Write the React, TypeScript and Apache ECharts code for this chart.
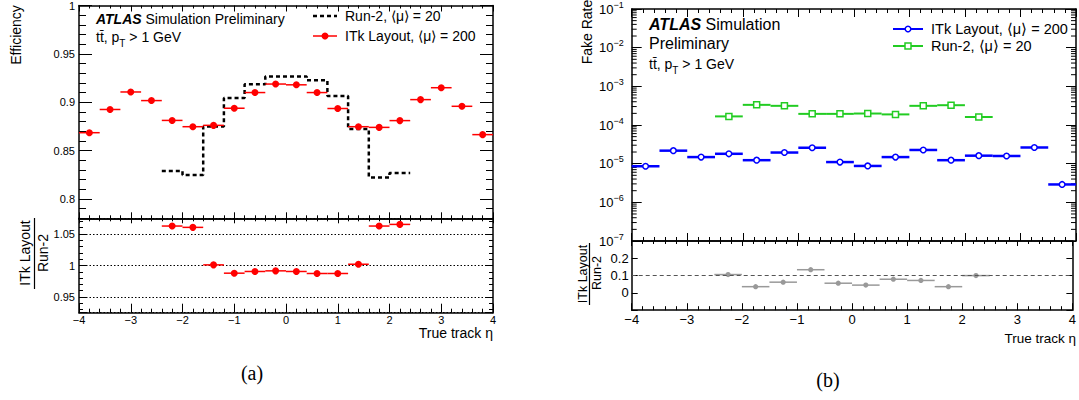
import React, { useEffect, useRef } from "react";
import * as echarts from "echarts";

const FONT = "'Liberation Sans', Arial, Helvetica, sans-serif";

// ---------- panel (a): efficiency ----------
const ETA_A = [-3.8, -3.4, -3.0, -2.6, -2.2, -1.8, -1.4, -1.0, -0.6, -0.2, 0.2, 0.6, 1.0, 1.4, 1.8, 2.2, 2.6, 3.0, 3.4, 3.8];
const ITK_EFF = [0.8685, 0.8925, 0.9106, 0.9017, 0.8812, 0.8747, 0.8761, 0.8938, 0.910, 0.9188, 0.918, 0.910, 0.8935, 0.8747, 0.874, 0.881, 0.9027, 0.915, 0.8958, 0.8665];
const RUN2_ETA_A = [-2.2, -1.8, -1.4, -1.0, -0.6, -0.2, 0.2, 0.6, 1.0, 1.4, 1.8, 2.2];
const RUN2_EFF = [0.829, 0.8247, 0.875, 0.9044, 0.9185, 0.9267, 0.9267, 0.9226, 0.9065, 0.8723, 0.8223, 0.8268];
const RATIO_A = [1.0627, 1.0606, 1.001, 0.9878, 0.9905, 0.9915, 0.9905, 0.9873, 0.9873, 1.002, 1.0627, 1.0653];
const HALF_A = 0.2;

// ---------- panel (b): fake rate ----------
const ETA_B = [-3.75, -3.25, -2.75, -2.25, -1.75, -1.25, -0.75, -0.25, 0.25, 0.75, 1.25, 1.75, 2.25, 2.75, 3.25, 3.75];
const ITK_FAKE = [8.57e-6, 2.17e-5, 1.48e-5, 1.8e-5, 1.23e-5, 1.94e-5, 2.58e-5, 1.1e-5, 8.73e-6, 1.48e-5, 2.26e-5, 1.23e-5, 1.61e-5, 1.58e-5, 2.62e-5, 2.9e-6];
const RUN2_ETA_B = [-2.25, -1.75, -1.25, -0.75, -0.25, 0.25, 0.75, 1.25, 1.75, 2.25];
const RUN2_FAKE = [1.67e-4, 3.32e-4, 3.13e-4, 1.94e-4, 1.94e-4, 1.98e-4, 1.88e-4, 3.13e-4, 3.25e-4, 1.61e-4];
const RATIO_B = [0.106, 0.036, 0.062, 0.134, 0.056, 0.045, 0.079, 0.072, 0.036, 0.1];
const HALF_B = 0.25;

// log-axis minor tick positions (2..9 x 10^n)
const LOG_DECADES = [1e-7, 1e-6, 1e-5, 1e-4, 1e-3, 1e-2];
const LOG_MULT = [2, 3, 4, 5, 6, 7, 8, 9];

const zip = (a: number[], b: number[]) => a.map((v, i) => [v, b[i]]);

type MarkerOpt = { line: string; lw: number; marker: "dot" | "circle" | "square"; mColor: string; r: number };

const makeBinRender = (half: number, o: MarkerOpt) => (params: any, api: any) => {
  const x = api.value(0);
  const y = api.value(1);
  const c = api.coord([x, y]);
  const l = api.coord([x - half, y]);
  const r = api.coord([x + half, y]);
  const children: any[] = [
    { type: "line", shape: { x1: l[0], y1: c[1], x2: r[0], y2: c[1] }, style: { stroke: o.line, lineWidth: o.lw } },
  ];
  if (o.marker === "dot") {
    children.push({ type: "circle", shape: { cx: c[0], cy: c[1], r: o.r }, style: { fill: o.mColor } });
  } else if (o.marker === "circle") {
    children.push({ type: "circle", shape: { cx: c[0], cy: c[1], r: o.r }, style: { fill: "#fff", stroke: o.mColor, lineWidth: 1.5 } });
  } else {
    children.push({
      type: "rect",
      shape: { x: c[0] - o.r, y: c[1] - o.r, width: 2 * o.r, height: 2 * o.r },
      style: { fill: "#fff", stroke: o.mColor, lineWidth: 1.5 },
    });
  }
  return { type: "group", children };
};

const minusFmt = (v: number) => (v < 0 ? "\u2212" + Math.abs(v) : String(v));

const AXLINE = { show: true, onZero: false, lineStyle: { color: "#000", width: 1.5 } };

function xAx(grid: number, pos: string, major: number, minor: number, labels: boolean, fontSize = 11, margin = 3) {
  return {
    type: "value",
    gridIndex: grid,
    position: pos,
    min: -4,
    max: 4,
    interval: 1,
    axisLine: AXLINE,
    axisTick: { show: true, inside: true, length: major, lineStyle: { color: "#000", width: 1 } },
    minorTick: { show: true, splitNumber: 5, length: minor, lineStyle: { color: "#000", width: 1 } },
    splitLine: { show: false },
    axisLabel: labels
      ? { show: true, color: "#000", fontFamily: FONT, fontSize, margin, formatter: minusFmt, showMinLabel: true, showMaxLabel: true }
      : { show: false },
  };
}

function App() {
  const ref = useRef<HTMLDivElement>(null);

  useEffect(() => {
    if (!ref.current) return;
    const chart = echarts.init(ref.current, undefined, { renderer: "svg" });

    // grid geometry
    const LA = 79, WA = 414;
    const LB = 631.7, WB = 444.3;

    const effFmt = (v: number) => {
      const k = v / 0.05;
      return Math.abs(k - Math.round(k)) < 1e-6 ? String(+v.toFixed(2)) : "";
    };
    const ratBFmt = (v: number) => (v > -0.05 && v < 0.25 ? String(+v.toFixed(1)) : "");
    const logFmt = (v: number) => {
      const e = Math.round(Math.log10(v));
      return "{b|10}{s|" + (e < 0 ? "\u2212" + Math.abs(e) : String(e)) + "}";
    };

    const yValue = (grid: number, pos: string, min: number, max: number, split: number, major: number, minor: number, minorSplit: number, label: any, splitLine: any) => ({
      type: "value",
      gridIndex: grid,
      position: pos,
      min,
      max,
      splitNumber: split,
      axisLine: AXLINE,
      axisTick: { show: true, inside: true, length: major, lineStyle: { color: "#000", width: 1 } },
      minorTick: { show: minorSplit > 1, splitNumber: minorSplit, length: minor, lineStyle: { color: "#000", width: 1 } },
      splitLine: splitLine || { show: false },
      axisLabel: label || { show: false },
    });

    const yLog = (pos: string, labels: boolean) => ({
      type: "log",
      logBase: 10,
      gridIndex: 2,
      position: pos,
      min: 1e-7,
      max: 1e-1,
      splitNumber: 6,
      axisLine: AXLINE,
      axisTick: { show: true, inside: true, length: 10, lineStyle: { color: "#000", width: 1 } },
      splitLine: { show: false },
      axisLabel: labels
        ? {
            show: true,
            margin: 8,
            formatter: logFmt,
            showMinLabel: true,
            showMaxLabel: true,
            rich: {
              b: { fontFamily: FONT, fontSize: 13, color: "#000", lineHeight: 18, verticalAlign: "middle" },
              s: { fontFamily: FONT, fontSize: 9, color: "#000", lineHeight: 9, verticalAlign: "top" },
            },
          }
        : { show: false },
    });

    const minorLogData: number[][] = [];
    LOG_DECADES.forEach((d) => LOG_MULT.forEach((m) => minorLogData.push([-4, m * d])));

    const run2Step: number[][] = [];
    RUN2_ETA_A.forEach((c, i) => {
      run2Step.push([c - HALF_A, RUN2_EFF[i]]);
      run2Step.push([c + HALF_A, RUN2_EFF[i]]);
    });

    const richTT = (size: number, lh: number, sub: number, subLh: number) => ({
      n: { fontFamily: FONT, fontSize: size, fill: "#000", lineHeight: lh, verticalAlign: "middle" },
      s: { fontFamily: FONT, fontSize: sub, fill: "#000", lineHeight: subLh, verticalAlign: "bottom" },
    });

    const txt = (x: number, y: number, text: string, size: number, extra: any = {}) => ({
      type: "text",
      x,
      y,
      silent: true,
      style: { text, fontFamily: FONT, fontSize: size, fill: "#000", align: "left", verticalAlign: "middle", ...extra },
    });

    const graphic: any[] = [
      // panel a texts
      {
        type: "text",
        x: 96,
        y: 19,
        silent: true,
        style: {
          text: "{a|ATLAS}{n| Simulation Preliminary}",
          verticalAlign: "middle",
          rich: {
            a: { fontFamily: FONT, fontSize: 14, fontWeight: "bold", fontStyle: "italic", fill: "#000" },
            n: { fontFamily: FONT, fontSize: 14, fill: "#000" },
          },
        },
      },
      {
        type: "text",
        x: 96,
        y: 37,
        silent: true,
        style: { text: "{n|tt\u0304, p}{s|T}{n| > 1 GeV}", verticalAlign: "middle", rich: richTT(14, 22, 10, 10) },
      },
      { type: "line", shape: { x1: 313, y1: 16, x2: 337, y2: 16 }, style: { stroke: "#000", lineWidth: 2.5, lineDash: [4, 3] } },
      txt(345, 16, "Run-2, \u27E8\u03BC\u27E9 = 20", 14),
      { type: "line", shape: { x1: 313, y1: 36, x2: 337, y2: 36 }, style: { stroke: "#ff0000", lineWidth: 1.5 } },
      { type: "circle", shape: { cx: 325, cy: 36, r: 3.5 }, style: { fill: "#ff0000" } },
      txt(345, 36, "ITk Layout, \u27E8\u03BC\u27E9 = 200", 14),
      txt(16, 35, "Efficiency", 14, { align: "center" }),
      { type: "text", x: 16, y: 35, rotation: Math.PI / 2, silent: true, style: { text: "", fontSize: 1 } },
      txt(493, 333, "True track \u03B7", 14, { align: "right" }),
      { type: "text", x: 252, y: 373, silent: true, style: { text: "(a)", fontFamily: "'Liberation Serif', 'DejaVu Serif', serif", fontSize: 20, fill: "#000", align: "center", verticalAlign: "middle" } },
      // panel b texts
      {
        type: "text",
        x: 649,
        y: 24,
        silent: true,
        style: {
          text: "{a|ATLAS}{n| Simulation}",
          verticalAlign: "middle",
          rich: {
            a: { fontFamily: FONT, fontSize: 16, fontWeight: "bold", fontStyle: "italic", fill: "#000" },
            n: { fontFamily: FONT, fontSize: 16, fill: "#000" },
          },
        },
      },
      txt(649, 43, "Preliminary", 16),
      {
        type: "text",
        x: 649,
        y: 64,
        silent: true,
        style: { text: "{n|tt\u0304, p}{s|T}{n| > 1 GeV}", verticalAlign: "middle", rich: richTT(14, 22, 10, 10) },
      },
      { type: "line", shape: { x1: 893, y1: 29, x2: 923, y2: 29 }, style: { stroke: "#0000ff", lineWidth: 2 } },
      { type: "circle", shape: { cx: 908, cy: 29, r: 2.8 }, style: { fill: "#fff", stroke: "#0000ff", lineWidth: 1.5 } },
      txt(931, 29, "ITk Layout, \u27E8\u03BC\u27E9 = 200", 14.5),
      { type: "line", shape: { x1: 893, y1: 46, x2: 923, y2: 46 }, style: { stroke: "#22cc22", lineWidth: 2 } },
      { type: "rect", shape: { x: 905, y: 43, width: 6, height: 6 }, style: { fill: "#fff", stroke: "#22cc22", lineWidth: 1.5 } },
      txt(931, 46, "Run-2, \u27E8\u03BC\u27E9 = 20", 14.5),
      txt(1076, 338, "True track \u03B7", 13.5, { align: "right" }),
      { type: "text", x: 828, y: 380, silent: true, style: { text: "(b)", fontFamily: "'Liberation Serif', 'DejaVu Serif', serif", fontSize: 20, fill: "#000", align: "center", verticalAlign: "middle" } },
    ];

    // rotated axis titles
    const rot = (x: number, y: number, text: string, size: number) => ({
      type: "text",
      x,
      y,
      rotation: Math.PI / 2,
      silent: true,
      style: { text, fontFamily: FONT, fontSize: size, fill: "#000", align: "center", verticalAlign: "middle" },
    });
    // replace the plain "Efficiency" entry with rotated one
    graphic.splice(7, 2, rot(16, 35, "Efficiency", 14));
    graphic.push(rot(25, 253, "ITk Layout", 14));
    graphic.push({ type: "line", shape: { x1: 34.5, y1: 218, x2: 34.5, y2: 289 }, style: { stroke: "#000", lineWidth: 1.2 } });
    graphic.push(rot(43, 253, "Run-2", 14));
    graphic.push(rot(587, 32, "Fake Rate", 14));
    graphic.push(rot(583, 274, "ITk Layout", 12.5));
    graphic.push({ type: "line", shape: { x1: 589.5, y1: 243, x2: 589.5, y2: 305 }, style: { stroke: "#000", lineWidth: 1.2 } });
    graphic.push(rot(597, 273, "Run-2", 12.5));

    const option: any = {
      animation: false,
      backgroundColor: "#fff",
      grid: [
        { left: LA, top: 3.6, width: WA, height: 214.7, containLabel: false },
        { left: LA, top: 218.3, width: WA, height: 94.4, containLabel: false },
        { left: LB, top: 0.4, width: WB, height: 240.6, containLabel: false },
        { left: LB, top: 241, width: WB, height: 69.2, containLabel: false },
      ],
      xAxis: [
        xAx(0, "bottom", 6, 3, false),
        xAx(0, "top", 6, 3, false),
        xAx(1, "bottom", 9, 4, true, 11, 2),
        xAx(1, "top", 5, 3, false),
        xAx(2, "bottom", 8, 4, false),
        xAx(2, "top", 8, 4, false),
        xAx(3, "bottom", 7, 4, true, 13, 3),
        xAx(3, "top", 5, 3, false),
      ],
      yAxis: [
        yValue(0, "left", 0.78, 1.0, 4, 13, 7, 5, { show: true, color: "#000", fontFamily: FONT, fontSize: 11, margin: 4, formatter: effFmt, showMinLabel: true, showMaxLabel: true }, null),
        yValue(0, "right", 0.78, 1.0, 4, 13, 7, 5, null, null),
        yValue(1, "left", 0.925, 1.075, 3, 8, 4, 5, { show: true, color: "#000", fontFamily: FONT, fontSize: 11, margin: 4, formatter: effFmt, showMinLabel: true, showMaxLabel: true }, {
          show: true,
          lineStyle: { color: "#000", width: 1, type: [1.5, 2] },
        }),
        yValue(1, "right", 0.925, 1.075, 3, 8, 4, 5, null, null),
        yLog("left", true),
        yLog("right", false),
        yValue(3, "left", -0.1, 0.3, 4, 6, 3, 1, { show: true, color: "#000", fontFamily: FONT, fontSize: 13, margin: 3, formatter: ratBFmt, showMinLabel: true, showMaxLabel: true }, null),
        yValue(3, "right", -0.1, 0.3, 4, 6, 3, 1, null, null),
      ],
      series: [
        {
          name: "Run-2, <mu> = 20",
          type: "line",
          xAxisIndex: 0,
          yAxisIndex: 0,
          data: run2Step,
          symbol: "none",
          z: 3,
          lineStyle: { color: "#000", width: 2.5, type: [4, 3] },
        },
        {
          name: "ITk Layout, <mu> = 200",
          type: "custom",
          xAxisIndex: 0,
          yAxisIndex: 0,
          data: zip(ETA_A, ITK_EFF),
          z: 4,
          renderItem: makeBinRender(HALF_A, { line: "#ff0000", lw: 1.5, marker: "dot", mColor: "#ff0000", r: 3.5 }),
        },
        {
          name: "Ratio a",
          type: "custom",
          xAxisIndex: 2,
          yAxisIndex: 2,
          data: zip(RUN2_ETA_A, RATIO_A),
          z: 4,
          renderItem: makeBinRender(HALF_A, { line: "#ff0000", lw: 1.5, marker: "dot", mColor: "#ff0000", r: 3.5 }),
        },
        {
          name: "ITk Layout fake",
          type: "custom",
          xAxisIndex: 4,
          yAxisIndex: 4,
          data: zip(ETA_B, ITK_FAKE),
          z: 4,
          renderItem: makeBinRender(HALF_B, { line: "#0000ff", lw: 2.5, marker: "circle", mColor: "#0000ff", r: 2.8 }),
        },
        {
          name: "Run-2 fake",
          type: "custom",
          xAxisIndex: 4,
          yAxisIndex: 4,
          data: zip(RUN2_ETA_B, RUN2_FAKE),
          z: 4,
          renderItem: makeBinRender(HALF_B, { line: "#22cc22", lw: 2, marker: "square", mColor: "#22cc22", r: 3 }),
        },
        {
          name: "log minor ticks",
          type: "custom",
          xAxisIndex: 4,
          yAxisIndex: 4,
          data: minorLogData,
          silent: true,
          z: 1,
          renderItem: (params: any, api: any) => {
            const v = api.value(1);
            const l = api.coord([-4, v]);
            const r = api.coord([4, v]);
            return {
              type: "group",
              children: [
                { type: "line", shape: { x1: l[0], y1: l[1], x2: l[0] + 5, y2: l[1] }, style: { stroke: "#000", lineWidth: 1 } },
                { type: "line", shape: { x1: r[0] - 5, y1: r[1], x2: r[0], y2: r[1] }, style: { stroke: "#000", lineWidth: 1 } },
              ],
            };
          },
        },
        {
          name: "Ratio b",
          type: "custom",
          xAxisIndex: 6,
          yAxisIndex: 6,
          data: zip(RUN2_ETA_B, RATIO_B),
          z: 4,
          renderItem: makeBinRender(HALF_B, { line: "#999999", lw: 1.5, marker: "dot", mColor: "#999999", r: 2.6 }),
        },
        {
          name: "ref line",
          type: "line",
          xAxisIndex: 6,
          yAxisIndex: 6,
          data: [],
          markLine: {
            silent: true,
            symbol: "none",
            label: { show: false },
            lineStyle: { color: "#555", width: 1.2, type: [4, 3] },
            data: [{ yAxis: 0.1 }],
          },
        },
      ],
      graphic,
    };

    chart.setOption(option);
    return () => chart.dispose();
  }, []);

  return <div ref={ref} style={{ position: "fixed", left: 0, top: 0, width: 1079, height: 400, background: "#fff" }} />;
}

export default App;
